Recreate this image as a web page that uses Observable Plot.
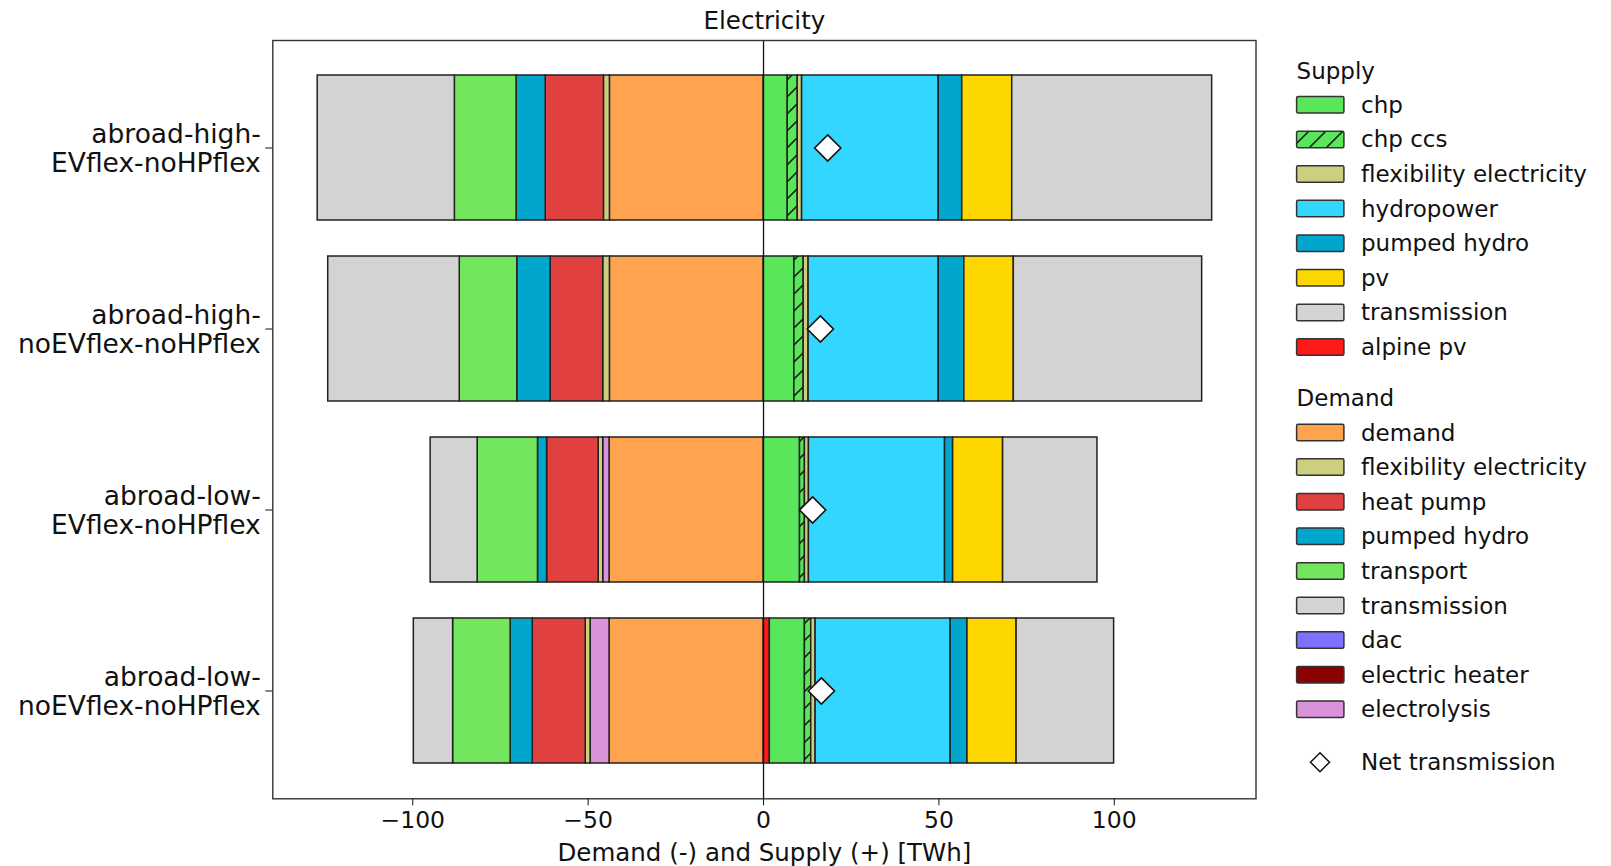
<!DOCTYPE html>
<html>
<head>
<meta charset="utf-8">
<script src="https://cdn.jsdelivr.net/npm/d3@7"></script>
<script src="https://cdn.jsdelivr.net/npm/@observablehq/plot@0.6"></script>
<style>
  html, body { margin: 0; padding: 0; background: #fff; }
  #wrap { position: relative; width: 1611px; height: 866px; font-family: "DejaVu Sans", sans-serif; color: #111; }
  #legend { position: absolute; left: 1270px; top: 0; }
</style>
</head>
<body>
<div id="wrap"></div>
<script>
// ---------------- DATA ----------------
const scenarios = [
  "abroad-high-EVflex-noHPflex",
  "abroad-high-noEVflex-noHPflex",
  "abroad-low-EVflex-noHPflex",
  "abroad-low-noEVflex-noHPflex"
];

// Supply (+) [TWh], one value per scenario
const sChp          = [6.9, 8.8, 10.4, 10.0];
const sChpCcs       = [2.85, 2.65, 1.4, 1.8];
const sFlex         = [1.25, 1.4, 1.15, 1.25];
const sHydropower   = [38.95, 37.1, 38.8, 38.5];
const sPumpedHydro  = [6.7, 7.3, 2.3, 4.8];
const sPv           = [14.25, 14.1, 14.25, 14.0];
const sTransmission = [57.0, 53.7, 26.9, 27.8];
const sAlpinePv     = [0, 0, 0, 1.8];

// Demand (-) [TWh]
const dDemand         = [43.8, 43.8, 43.9, 43.9];
const dFlex           = [1.7, 1.9, 1.3, 1.4];
const dHeatPump       = [16.6, 15.0, 14.7, 15.1];
const dPumpedHydro    = [8.3, 9.5, 2.6, 6.3];
const dTransport      = [17.6, 16.4, 17.2, 16.4];
const dTransmission   = [39.1, 37.5, 13.4, 11.2];
const dDac            = [0, 0, 0, 0];
const dElectricHeater = [0, 0, 0, 0];
const dElectrolysis   = [0, 0, 1.8, 5.4];

// Net transmission markers [TWh]
const netTransmission = [18.3, 16.2, 14.0, 16.5];

// Legend order and colours
const supplyLabels = ["chp", "chp ccs", "flexibility electricity", "hydropower", "pumped hydro", "pv", "transmission", "alpine pv"];
const supplyColors = ["#5AE65A", "url(#hatch-ccs)", "#CDCF80", "#33D6FF", "#00A6CC", "#FFD700", "#D3D3D3", "#FF1A1A"];
const demandLabels = ["demand", "flexibility electricity", "heat pump", "pumped hydro", "transport", "transmission", "dac", "electric heater", "electrolysis"];
const demandColors = ["#FFA34F", "#CDCF80", "#E04040", "#00A6CC", "#74E65E", "#D3D3D3", "#7F70FF", "#8B0000", "#DA92DA"];

// Stacking order outward from zero
const supplyStack = [
  ["alpine pv", sAlpinePv], ["chp", sChp], ["chp ccs", sChpCcs], ["flexibility electricity", sFlex],
  ["hydropower", sHydropower], ["pumped hydro", sPumpedHydro], ["pv", sPv], ["transmission", sTransmission]
];
const demandStack = [
  ["demand", dDemand], ["electrolysis", dElectrolysis], ["electric heater", dElectricHeater], ["dac", dDac],
  ["flexibility electricity", dFlex], ["heat pump", dHeatPump], ["pumped hydro", dPumpedHydro],
  ["transport", dTransport], ["transmission", dTransmission]
];

// ---------------- BUILD ----------------
const supplyColor = new Map(supplyLabels.map((k, i) => [k, supplyColors[i]]));
const demandColor = new Map(demandLabels.map((k, i) => [k, demandColors[i]]));

const segs = [];
scenarios.forEach((sc, i) => {
  let acc = 0;
  for (const [tech, vals] of supplyStack) {
    const v = vals[i];
    if (v > 0) segs.push({scenario: sc, tech, x1: acc, x2: acc + v, fill: supplyColor.get(tech)});
    acc += v;
  }
  acc = 0;
  for (const [tech, vals] of demandStack) {
    const v = vals[i];
    if (v > 0) segs.push({scenario: sc, tech, x1: -acc, x2: -(acc + v), fill: demandColor.get(tech)});
    acc += v;
  }
});
const netData = scenarios.map((sc, i) => ({scenario: sc, value: netTransmission[i]}));

const chart = Plot.plot({
  width: 1611,
  height: 866,
  marginLeft: 272.3,
  marginRight: 355.5,
  marginTop: 40,
  marginBottom: 67.7,
  style: {fontFamily: "DejaVu Sans", fontSize: "23px", color: "#111", background: "#fff"},
  x: {domain: [-139.9, 140.4]},
  y: {domain: scenarios, paddingInner: 0.2, paddingOuter: 0.19},
  color: {type: "identity"},
  marks: [
    Plot.barX(segs, {x1: "x1", x2: "x2", y: "scenario", fill: "fill", stroke: "#222", strokeWidth: 1.5}),
    Plot.ruleX([0], {stroke: "#111", strokeWidth: 1.3}),
    Plot.dot(netData, {x: "value", y: "scenario", symbol: "diamond2", r: 11.8, fill: "white", stroke: "#111", strokeWidth: 1.6}),
    Plot.frame({stroke: "#333", strokeWidth: 1.4}),
    Plot.axisX({
      ticks: [-100, -50, 0, 50, 100], tickSize: 7, tickPadding: 5.5, fontSize: 23.5, label: null
    }),
    Plot.axisY({
      tickSize: 7, tickPadding: 5, fontSize: 26.5, lineHeight: 1.12, label: null,
      tickFormat: d => d.replace(/^(abroad-(?:high|low)-)/, "$1\n")
    }),
    Plot.text(["Demand (-) and Supply (+) [TWh]"], {frameAnchor: "bottom", dy: 54.5, fontSize: 24.5, lineAnchor: "middle"}),
    Plot.text(["Electricity"], {frameAnchor: "top", dy: -19.5, fontSize: 24.5, lineAnchor: "middle"})
  ]
});

// hatch pattern for chp ccs
function addHatch(svgSel, id) {
  const defs = svgSel.insert("defs", ":first-child");
  const p = defs.append("pattern").attr("id", id).attr("patternUnits", "userSpaceOnUse")
    .attr("width", 17).attr("height", 17);
  p.append("rect").attr("width", 17).attr("height", 17).attr("fill", "#5AE65A");
  p.append("path").attr("d", "M-4,4L4,-4M0,17L17,0M13,21L21,13")
    .attr("stroke", "#111").attr("stroke-width", 1.5).attr("fill", "none");
}
addHatch(d3.select(chart), "hatch-ccs");
document.getElementById("wrap").appendChild(chart);

// ---------------- LEGEND ----------------
const lg = d3.select("#wrap").append("svg").attr("id", "legend")
  .attr("width", 341).attr("height", 866)
  .style("font-family", "DejaVu Sans").style("font-size", "23px");
addHatch(lg, "hatch-ccs-lg");
const patchX = 26.6, patchW = 47.3, patchH = 16.5, textX = 91, rowH = 34.6;

function header(text, y) {
  lg.append("text").attr("x", patchX).attr("y", y).attr("dy", "0.35em").attr("fill", "#111").text(text);
}
function row(label, color, y) {
  lg.append("rect").attr("x", patchX).attr("y", y - patchH / 2).attr("width", patchW).attr("height", patchH)
    .attr("rx", 1.5)
    .attr("fill", color === "url(#hatch-ccs)" ? "url(#hatch-ccs-lg)" : color)
    .attr("stroke", "#333").attr("stroke-width", 1.5);
  lg.append("text").attr("x", textX).attr("y", y).attr("dy", "0.35em").attr("fill", "#111").text(label);
}
header("Supply", 71);
supplyLabels.forEach((l, i) => row(l, supplyColors[i], 104.8 + i * rowH));
header("Demand", 397.6);
demandLabels.forEach((l, i) => row(l, demandColors[i], 432.5 + i * rowH));
// net transmission marker
const cy = 762.3, cx = 50, hd = 9.5;
lg.append("polygon").attr("points", `${cx},${cy - hd} ${cx + hd},${cy} ${cx},${cy + hd} ${cx - hd},${cy}`)
  .attr("fill", "white").attr("stroke", "#111").attr("stroke-width", 1.5);
lg.append("text").attr("x", textX).attr("y", cy).attr("dy", "0.35em").attr("fill", "#111").text("Net transmission");
</script>
</body>
</html>
